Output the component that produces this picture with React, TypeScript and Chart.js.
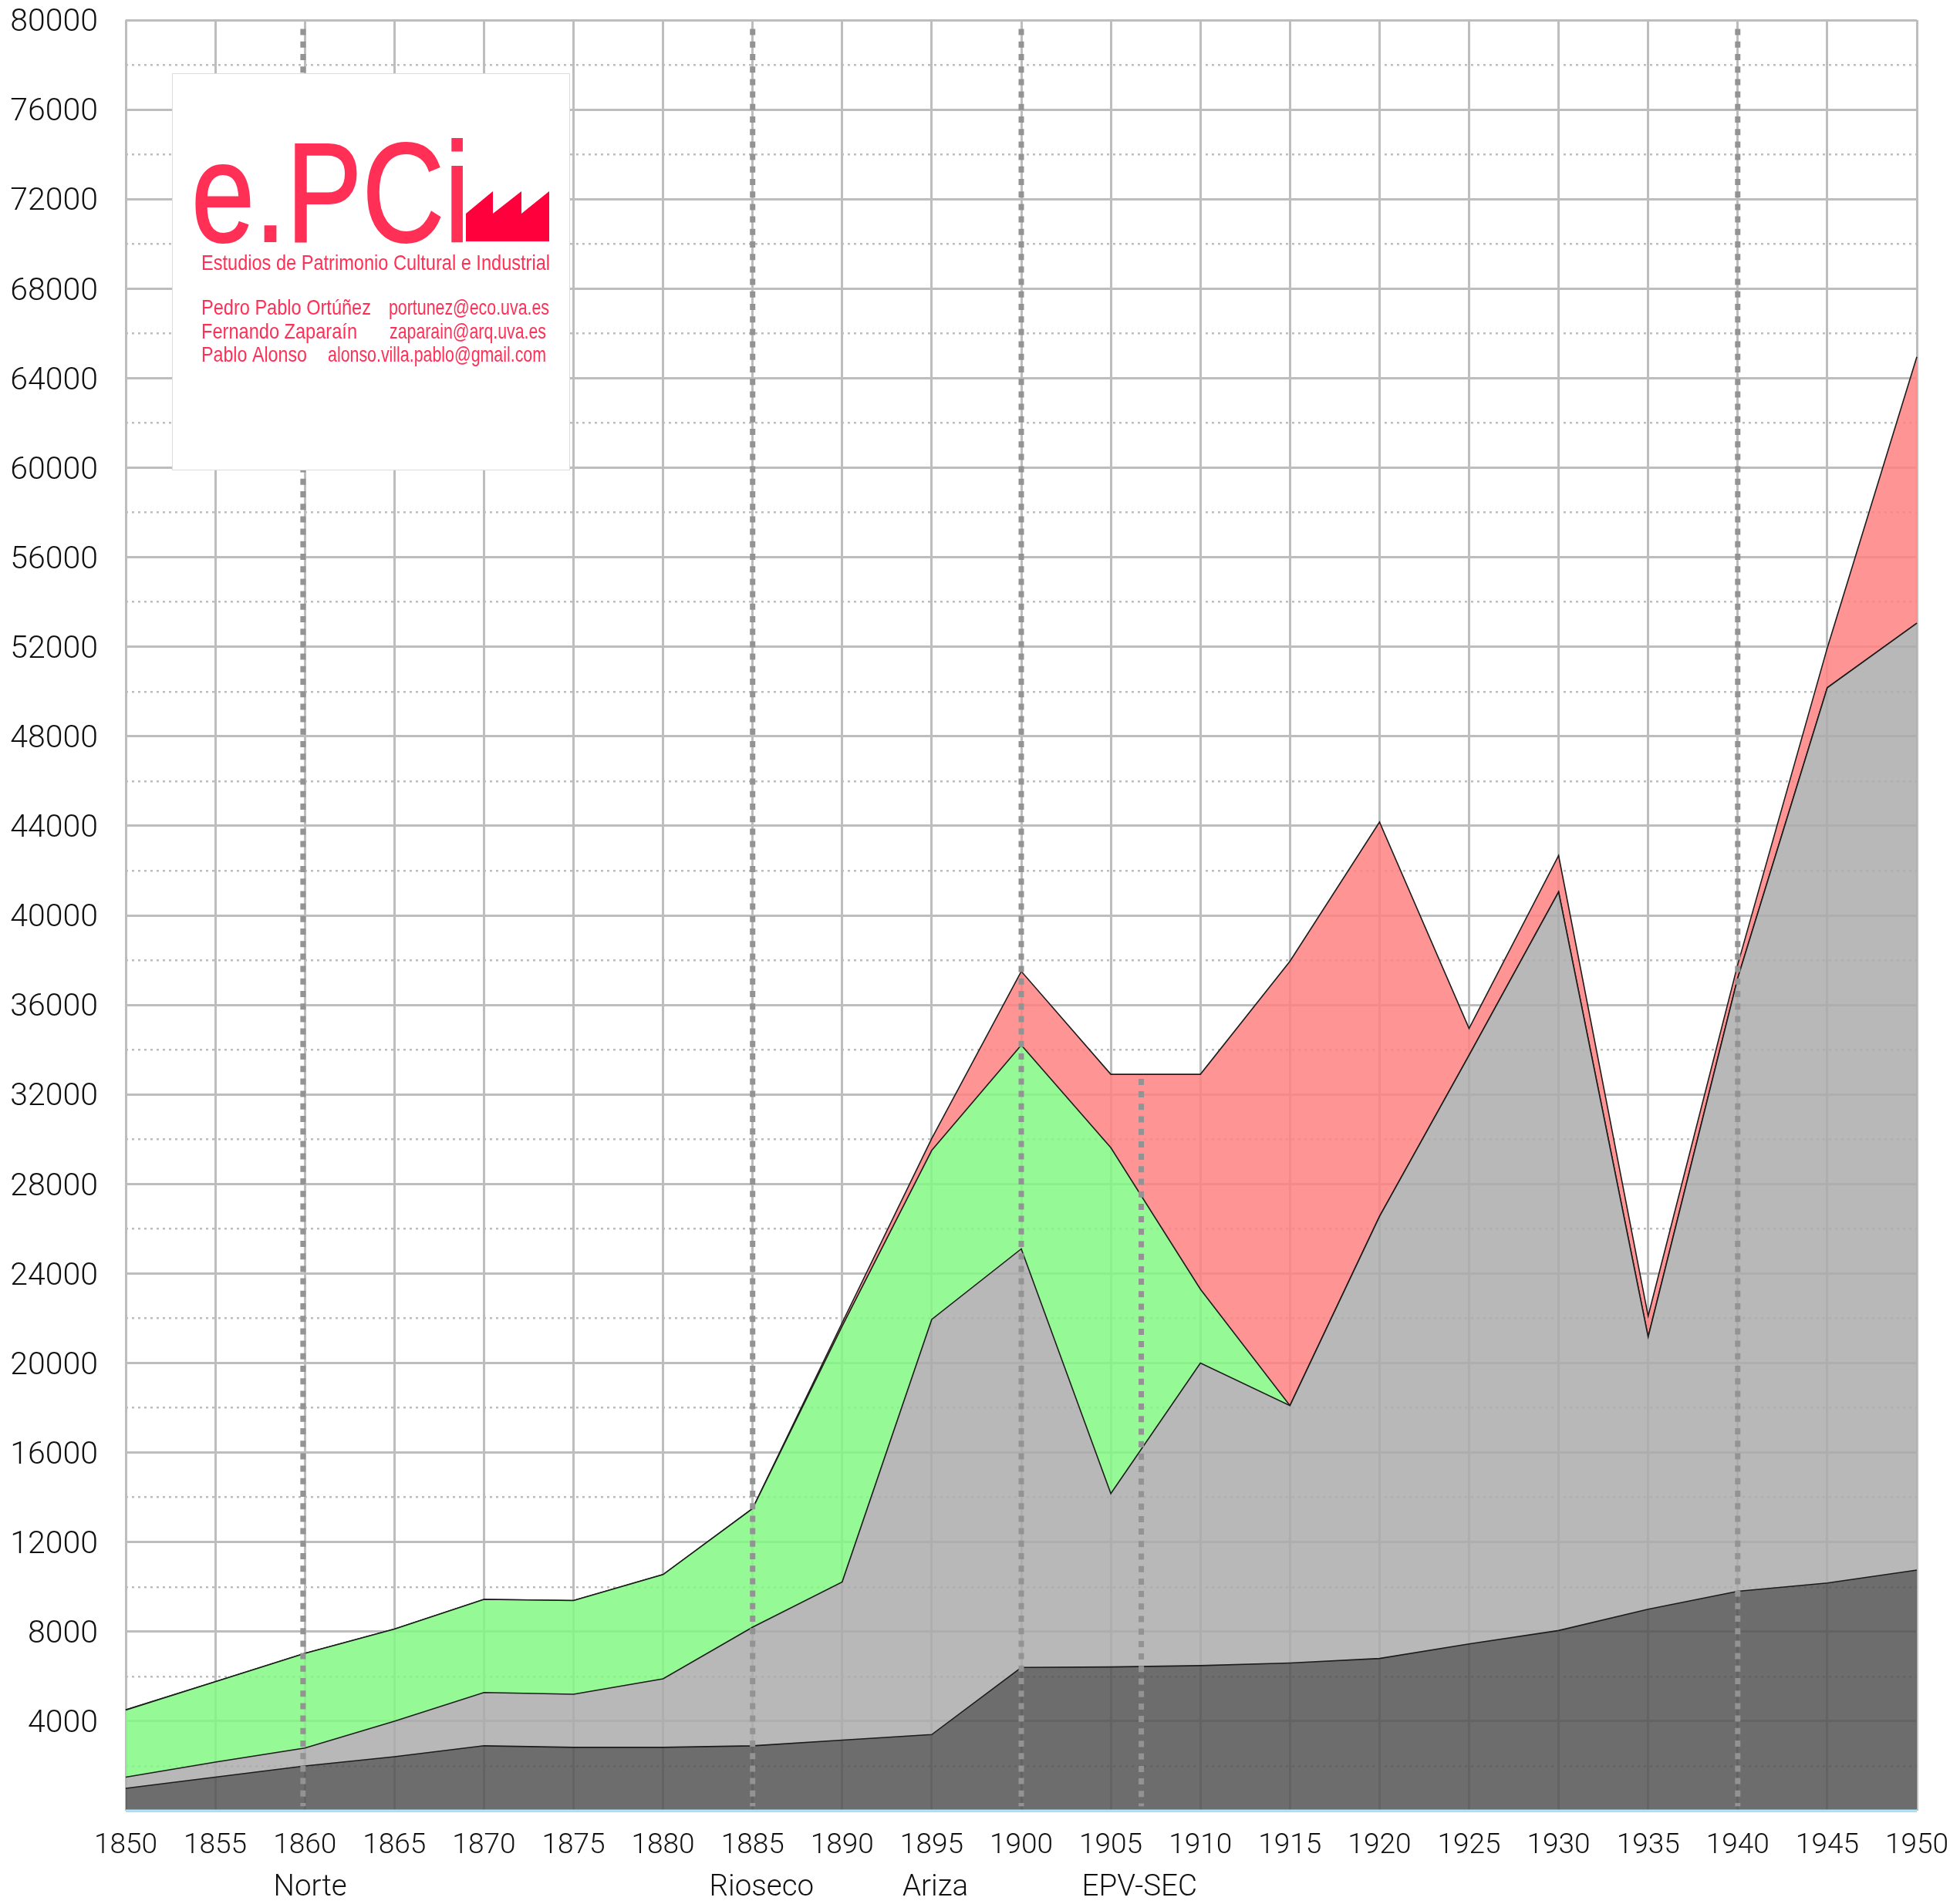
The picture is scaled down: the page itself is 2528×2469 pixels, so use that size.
import React, { useEffect, useRef } from "react";
import { Chart, registerables } from "chart.js";

Chart.register(...registerables);

const years = [1850,1855,1860,1865,1870,1875,1880,1885,1890,1895,1900,1905,1910,1915,1920,1925,1930,1935,1940,1945,1950];
const darkTop = [1000,1500,2000,2410,2900,2830,2830,2900,3150,3400,6400,6420,6480,6600,6800,7450,8050,9000,9800,10170,10750];
const grayTop = [1500,2170,2800,4000,5280,5200,5890,8200,10220,21950,25100,14170,20000,18100,26550,33750,41050,21170,37200,50170,53050];
const greenTop = [4500,5760,7030,8110,9440,9390,10550,13500,21650,29500,34200,29620,23300,18100,26550,33750,41050,21170,37200,50170,53050];
const redTop = [4500,5760,7030,8110,9440,9390,10550,13500,21800,30030,37500,32900,32900,37950,44170,34950,42670,22100,37800,51950,64950];

const railLines = [
  { year: 1859.9, from: 79600 },
  { year: 1885, from: 79600 },
  { year: 1900, from: 79600 },
  { year: 1906.7, from: 32700 },
  { year: 1940, from: 79600 },
];
const railLabels = [
  { text: "Norte", year: 1860.3 },
  { text: "Rioseco", year: 1885.5 },
  { text: "Ariza", year: 1895.2 },
  { text: "EPV-SEC", year: 1906.6 },
];

const logoRed = "#ff2f55";
const logoLines = [
  { text: "Estudios de Patrimonio Cultural e Industrial", x0: 261, x1: 713, y: 350 },
  { text: "Pedro Pablo Ortúñez", x0: 261, x1: 481, y: 408 },
  { text: "portunez@eco.uva.es", x0: 504, x1: 712, y: 408 },
  { text: "Fernando Zaparaín", x0: 261, x1: 463, y: 439 },
  { text: "zaparain@arq.uva.es", x0: 505, x1: 708, y: 439 },
  { text: "Pablo Alonso", x0: 261, x1: 398, y: 469 },
  { text: "alonso.villa.pablo@gmail.com", x0: 425, x1: 708, y: 469 },
];

const FONT = "Roboto, 'Liberation Sans', sans-serif";

function fitText(ctx: CanvasRenderingContext2D, text: string, x0: number, x1: number, y: number, font: string) {
  ctx.save();
  ctx.font = font;
  ctx.textAlign = "left";
  ctx.textBaseline = "alphabetic";
  const w = ctx.measureText(text).width;
  ctx.translate(x0, y);
  ctx.scale((x1 - x0) / w, 1);
  ctx.fillText(text, 0, 0);
  ctx.restore();
}

const overlayPlugin = {
  id: "overlay",
  afterDraw(chart: any) {
    const { ctx, scales } = chart;
    ctx.save();
    // railway labels below the axis
    ctx.fillStyle = "#111";
    ctx.font = `300 38.5px ${FONT}`;
    ctx.textAlign = "center";
    ctx.textBaseline = "alphabetic";
    railLabels.forEach((l) => ctx.fillText(l.text, scales.x.getPixelForValue(l.year), 2458));

    // logo card
    ctx.fillStyle = "#ffffff";
    ctx.fillRect(223, 95.5, 515, 514);
    ctx.strokeStyle = "#dddddd";
    ctx.lineWidth = 1;
    ctx.strokeRect(223.5, 95.5, 515, 514);

    ctx.fillStyle = logoRed;
    ctx.save();
    ctx.font = "183px 'Liberation Sans'";
    ctx.textAlign = "left";
    const w = ctx.measureText("e.PCi").width;
    ctx.translate(248, 313);
    ctx.scale(361 / w, 1);
    ctx.strokeStyle = logoRed;
    ctx.lineWidth = 2;
    ctx.strokeText("e.PCi", 0, 0);
    ctx.fillText("e.PCi", 0, 0);
    ctx.restore();

    ctx.fillStyle = "#ff003c";
    ctx.beginPath();
    ctx.moveTo(604, 277);
    ctx.lineTo(639, 248);
    ctx.lineTo(639, 277);
    ctx.lineTo(676, 248);
    ctx.lineTo(676, 277);
    ctx.lineTo(712, 248);
    ctx.lineTo(712, 313);
    ctx.lineTo(604, 313);
    ctx.closePath();
    ctx.fill();

    ctx.fillStyle = logoRed;
    logoLines.forEach((l) => fitText(ctx, l.text, l.x0, l.x1, l.y, "28px 'Liberation Sans'"));
    ctx.restore();
  },
};

const pts = (vals: number[]) => vals.map((y, i) => ({ x: years[i], y }));

export default function App() {
  const ref = useRef<HTMLCanvasElement | null>(null);
  useEffect(() => {
    const area = (data: number[], fill: any, backgroundColor: string) => ({
      data: pts(data),
      fill,
      backgroundColor,
      borderColor: "#1c1c1c",
      borderWidth: 1.6,
      pointRadius: 0,
      tension: 0,
      clip: false,
    });
    const chart = new Chart(ref.current as HTMLCanvasElement, {
      type: "line",
      data: {
        datasets: [
          area(darkTop, "origin", "rgba(84,84,84,0.85)"),
          area(grayTop, "-1", "rgba(171,171,171,0.85)"),
          area(greenTop, "-1", "rgba(131,249,131,0.85)"),
          area(redTop, "-1", "rgba(255,129,129,0.85)"),
          {
            data: [{ x: 1850, y: 0 }, { x: 1950, y: 0 }],
            fill: false,
            borderColor: "#aee6ff",
            borderWidth: 3,
            pointRadius: 0,
            clip: false,
            order: -1,
          },
          ...railLines.map((r) => ({
            data: [{ x: r.year, y: r.from }, { x: r.year, y: 200 }],
            fill: false,
            borderColor: "#939393",
            borderWidth: 7,
            borderDash: [8, 8.2],
            borderCapStyle: "butt",
            pointRadius: 0,
            order: -2,
          })),
        ] as any,
      },
      options: {
        animation: false,
        responsive: false,
        layout: { autoPadding: false, padding: { top: 26, right: 43, bottom: 0, left: 0 } },
        plugins: { legend: { display: false }, tooltip: { enabled: false } },
        scales: {
          x: {
            type: "linear",
            min: 1850,
            max: 1950,
            afterFit: (s: any) => { s.height = 121; s.paddingLeft = 0; s.paddingRight = 0; },
            ticks: {
              stepSize: 5,
              autoSkip: false,
              maxRotation: 0,
              padding: 24,
              color: "#111",
              font: { family: FONT, size: 37, weight: "300" },
              callback: (v: any) => String(v),
            },
            grid: { color: "#bdbdbd", lineWidth: 3, drawTicks: false },
            border: { display: false },
          },
          y: {
            type: "linear",
            min: 0,
            max: 80000,
            afterFit: (s: any) => { s.width = 163; s.paddingTop = 0; s.paddingBottom = 0; },
            ticks: {
              stepSize: 2000,
              autoSkip: false,
              padding: 36,
              labelOffset: 4,
              color: "#111",
              font: { family: FONT, size: 41, weight: "300" },
              callback: (v: any) => (v !== 0 && v % 4000 === 0 ? String(v) : ""),
            },
            grid: {
              color: "#bdbdbd",
              lineWidth: (c: any) => (c.tick && c.tick.value % 4000 === 0 ? 3 : 2.5),
              drawTicks: false,
            },
            border: {
              display: false,
              dash: (c: any) => (c.tick && c.tick.value % 4000 === 0 ? [] : [3, 5]),
            },
          },
        },
      } as any,
      plugins: [overlayPlugin],
    });
    return () => chart.destroy();
  }, []);
  return (
    <div style={{ position: "absolute", left: 0, top: 0, width: 2528, height: 2469, background: "#fff" }}>
      <canvas ref={ref} width={2528} height={2469} style={{ display: "block" }} />
    </div>
  );
}
